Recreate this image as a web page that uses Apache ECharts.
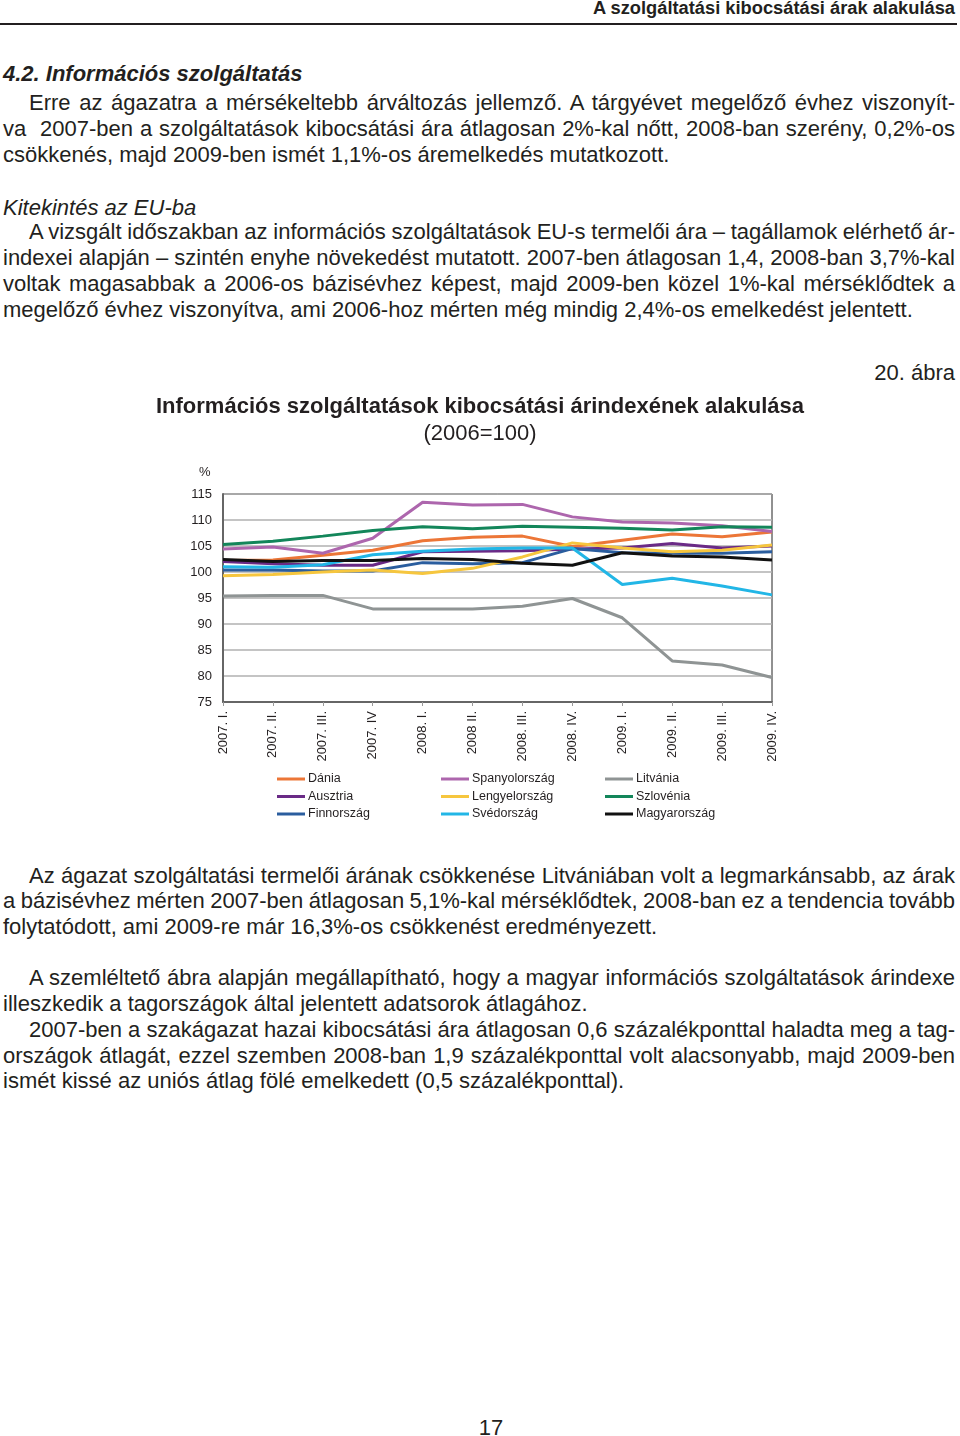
<!DOCTYPE html>
<html>
<head>
<meta charset="utf-8">
<script src="https://cdn.jsdelivr.net/npm/echarts@6/dist/echarts.min.js"></script>
<style>
  html, body { margin: 0; padding: 0; background: #fff; }
  body { width: 960px; height: 1436px; position: relative; overflow: hidden;
         font-family: "Liberation Sans", Arial, sans-serif; color: #231f20; }
  .ln { position: absolute; left: 3px; width: 952px; font-size: 22px; line-height: 26px;
        white-space: nowrap; }
  .j { text-align: justify; text-align-last: justify; white-space: normal; }
  .t { word-spacing: -4px; }
  .ind { left: 29px; width: 926px; }
  #head { position: absolute; right: 5px; top: -3px; font-family: "Liberation Sans Narrow", "Liberation Sans", Arial, sans-serif;
          font-weight: bold; font-size: 18.3px; line-height: 22px; }
  #rule { position: absolute; left: 0; top: 23px; width: 957px; height: 2px; background: #231f20; }
  #main { position: absolute; left: 0; top: 380px; width: 960px; height: 460px; }
</style>
</head>
<body>
<div id="head">A szolgáltatási kibocsátási árak alakulása</div>
<div id="rule"></div>

<div class="ln" style="top:61px;font-weight:bold;font-style:italic;">4.2. Információs szolgáltatás</div>
<div class="ln j ind" style="top:90px;">Erre az ágazatra a mérsékeltebb árváltozás jellemző. A tárgyévet megelőző évhez viszonyít-</div>
<div class="ln j" style="top:116px;">va&nbsp; 2007-ben a szolgáltatások kibocsátási ára átlagosan 2%-kal nőtt, 2008-ban szerény, 0,2%-os</div>
<div class="ln" style="top:142px;">csökkenés, majd 2009-ben ismét 1,1%-os áremelkedés mutatkozott.</div>

<div class="ln" style="top:195px;font-style:italic;">Kitekintés az EU-ba</div>
<div class="ln j ind t" style="top:219px;">A vizsgált időszakban az információs szolgáltatások EU-s termelői ára – tagállamok elérhető ár-</div>
<div class="ln j" style="top:245px;">indexei alapján – szintén enyhe növekedést mutatott. 2007-ben átlagosan 1,4, 2008-ban 3,7%-kal</div>
<div class="ln j" style="top:271px;">voltak magasabbak a 2006-os bázisévhez képest, majd 2009-ben közel 1%-kal mérséklődtek a</div>
<div class="ln" style="top:297px;">megelőző évhez viszonyítva, ami 2006-hoz mérten még mindig 2,4%-os emelkedést jelentett.</div>

<div class="ln" style="top:360px;text-align:right;">20. ábra</div>

<div id="main"></div>

<div class="ln j ind" style="top:863px;">Az ágazat szolgáltatási termelői árának csökkenése Litvániában volt a legmarkánsabb, az árak</div>
<div class="ln j t" style="top:888px;">a bázisévhez mérten 2007-ben átlagosan 5,1%-kal mérséklődtek, 2008-ban ez a tendencia tovább</div>
<div class="ln" style="top:914px;">folytatódott, ami 2009-re már 16,3%-os csökkenést eredményezett.</div>

<div class="ln j ind" style="top:965px;">A szemléltető ábra alapján megállapítható, hogy a magyar információs szolgáltatások árindexe</div>
<div class="ln" style="top:991px;">illeszkedik a tagországok által jelentett adatsorok átlagához.</div>
<div class="ln j ind" style="top:1017px;">2007-ben a szakágazat hazai kibocsátási ára átlagosan 0,6 százalékponttal haladta meg a tag-</div>
<div class="ln j" style="top:1043px;">országok átlagát, ezzel szemben 2008-ban 1,9 százalékponttal volt alacsonyabb, majd 2009-ben</div>
<div class="ln" style="top:1068px;">ismét kissé az uniós átlag fölé emelkedett (0,5 százalékponttal).</div>

<div class="ln" style="top:1415px;left:0;width:982px;text-align:center;">17</div>

<script>
// negyedévek
var quarters = ['2007. I.', '2007. II.', '2007. III.', '2007. IV', '2008. I.', '2008 II.',
  '2008. III.', '2008. IV.', '2009. I.', '2009. II.', '2009. III.', '2009. IV.']

// árindexek, 2006=100
var dania = [102.2, 102.3, 103.2, 104.2, 106.0, 106.7, 106.9, 104.9, 106.1, 107.3, 106.8, 107.7]
var ausztria = [102.0, 101.6, 101.3, 101.3, 103.9, 104.0, 104.1, 104.4, 104.6, 105.5, 104.6, 105.0]
var finnorszag = [100.4, 100.4, 100.2, 100.2, 101.8, 101.6, 101.8, 104.5, 103.7, 103.6, 103.6, 103.9]
var spanyolorszag = [104.4, 104.8, 103.6, 106.5, 113.4, 112.9, 113.0, 110.6, 109.6, 109.4, 108.9, 107.8]
var lengyelorszag = [99.3, 99.5, 100.0, 100.4, 99.7, 100.7, 102.9, 105.6, 104.6, 103.9, 104.2, 105.2]
var svedorszag = [101.0, 100.9, 101.4, 103.3, 104.0, 104.4, 104.6, 104.6, 97.6, 98.8, 97.3, 95.6]
var litvania = [95.4, 95.5, 95.5, 92.9, 92.9, 92.9, 93.4, 94.9, 91.2, 82.9, 82.1, 79.7]
var szlovenia = [105.3, 105.9, 106.9, 108.0, 108.7, 108.3, 108.8, 108.6, 108.4, 108.1, 108.7, 108.6]
var magyarorszag = [102.4, 102.0, 102.2, 102.2, 102.6, 102.4, 101.7, 101.3, 103.7, 103.1, 102.9, 102.3]

var seriesList = [
  { name: 'Dánia', data: dania, color: '#ec7637' },
  { name: 'Ausztria', data: ausztria, color: '#6a2a86' },
  { name: 'Finnország', data: finnorszag, color: '#2a5d9e' },
  { name: 'Spanyolország', data: spanyolorszag, color: '#ad66ad' },
  { name: 'Lengyelország', data: lengyelorszag, color: '#f6c63e' },
  { name: 'Svédország', data: svedorszag, color: '#22b6e6' },
  { name: 'Litvánia', data: litvania, color: '#8f9494' },
  { name: 'Szlovénia', data: szlovenia, color: '#13865a' },
  { name: 'Magyarország', data: magyarorszag, color: '#111111' }
]

var chartDom = document.getElementById('main')
var myChart = echarts.init(chartDom)
var option

function legendCol (left, names) {
  return {
    orient: 'vertical',
    left: left,
    top: 392,
    icon: 'rect',
    itemWidth: 28,
    itemHeight: 3,
    itemGap: 3.5,
    padding: 0,
    selectedMode: false,
    textStyle: { fontSize: 12.5, lineHeight: 14, color: '#231f20', padding: [0, 0, 0, -2],
      fontFamily: 'Liberation Sans, Arial, sans-serif' },
    data: names
  }
}

option = {
  animation: false,
  title: {
    text: 'Információs szolgáltatások kibocsátási árindexének alakulása',
    subtext: '(2006=100)',
    left: 'center',
    top: 9,
    itemGap: 1,
    textStyle: { fontSize: 22, fontWeight: 'bold', color: '#231f20', lineHeight: 26,
      fontFamily: 'Liberation Sans, Arial, sans-serif' },
    subtextStyle: { fontSize: 22, color: '#231f20', lineHeight: 26,
      fontFamily: 'Liberation Sans, Arial, sans-serif' }
  },
  legend: [
    legendCol(277, ['Dánia', 'Ausztria', 'Finnország']),
    legendCol(441, ['Spanyolország', 'Lengyelország', 'Svédország']),
    legendCol(605, ['Litvánia', 'Szlovénia', 'Magyarország'])
  ],
  grid: {
    left: 223,
    right: 188,
    top: 114,
    bottom: 138,
    show: true,
    borderColor: '#222',
    borderWidth: 1
  },
  xAxis: {
    type: 'category',
    data: quarters,
    boundaryGap: false,
    axisLine: { lineStyle: { color: '#666', width: 2 } },
    axisTick: { show: true, length: 4, lineStyle: { color: '#999' } },
    axisLabel: { rotate: 90, margin: 9, fontSize: 13, color: '#231f20', interval: 0,
      fontFamily: 'Liberation Sans, Arial, sans-serif' },
    splitLine: { show: false }
  },
  yAxis: {
    type: 'value',
    min: 75,
    max: 115,
    interval: 5,
    axisLine: { show: true, lineStyle: { color: '#666', width: 2 } },
    axisTick: { show: false },
    axisLabel: { fontSize: 13, color: '#231f20', margin: 11,
      fontFamily: 'Liberation Sans, Arial, sans-serif' },
    splitLine: { lineStyle: { color: '#b0b0b0', width: 1.5 } }
  },
  graphic: [
    { type: 'text', left: 199, top: 86,
      style: { text: '%', fontSize: 13, fill: '#231f20', fontFamily: 'Liberation Sans, Arial, sans-serif' } }
  ],
  series: seriesList.map(function (s) {
    return {
      name: s.name,
      type: 'line',
      data: s.data,
      symbol: 'none',
      color: s.color,
      lineStyle: { width: 3, color: s.color }
    }
  })
}

option && myChart.setOption(option)
</script>
</body>
</html>
